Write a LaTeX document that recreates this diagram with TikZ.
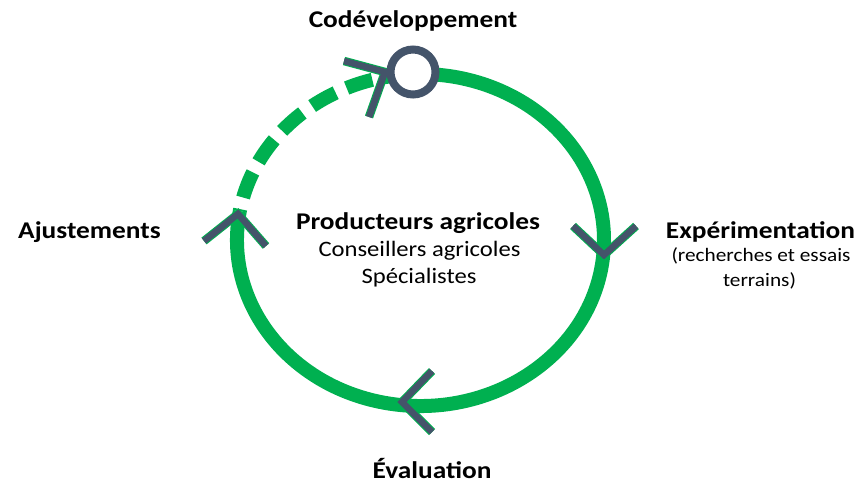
\documentclass[tikz,border=0pt]{standalone}
\usepackage{fontspec}
\setmainfont{Carlito}
\definecolor{cgreen}{HTML}{00B050}
\definecolor{slate}{HTML}{44546A}
\begin{document}
\begin{tikzpicture}[x=1pt,y=-1pt,
  ring/.style={draw=cgreen,line width=14pt},
  chevout/.style={draw=cgreen,line width=8.5pt,line cap=butt,line join=miter},
  chevin/.style={draw=slate,line width=6.5pt,line cap=butt,line join=miter},
  title/.style={font=\bfseries\fontsize{24}{28}\selectfont,inner sep=0pt,anchor=base,xscale=1.14},
  sub/.style={font=\fontsize{22}{26}\selectfont,inner sep=0pt,anchor=base,xscale=1.12},
  small/.style={font=\fontsize{19}{23}\selectfont,inner sep=0pt,anchor=base,xscale=1.12}]
\useasboundingbox (0,0) rectangle (856,483);
% solid ring part
\draw[ring] (420.5,240) ++(170:183.5 and -166) arc[start angle=170,end angle=453,x radius=183.5,y radius=-166];
% dashed part
\draw[ring,dash pattern=on 27pt off 12pt] (420.5,240) ++(93:183.5 and -166) arc[start angle=93,end angle=170,x radius=183.5,y radius=-166];
% chevrons
\coordinate (t1) at (385,72); \coordinate (a1) at (344,61); \coordinate (b1) at (369,117);
\coordinate (t2) at (238,214); \coordinate (a2) at (204,241); \coordinate (b2) at (266,246);
\coordinate (t3) at (604,255); \coordinate (a3) at (573,226); \coordinate (b3) at (636,226);
\coordinate (t4) at (402,402); \coordinate (a4) at (432,371); \coordinate (b4) at (432,432);
\foreach \i in {1,2,3,4}{
  \draw[chevout] (a\i) -- (t\i) -- (b\i);
  \draw[chevin] (a\i) -- (t\i) -- (b\i);
}
% circle node
\node[circle,draw=slate,line width=8pt,fill=white,minimum size=45pt,inner sep=0pt] (codev) at (413,72) {};
% texts
\node[title] (lcodev) at (413,27) {Codéveloppement};
\node[title] (lajust) at (89.5,238) {Ajustements};
\node[title] (lexp) at (760.5,238) {Expérimentation};
\node[small] (lexp2) at (761,261) {(recherches et essais};
\node[small] (lexp3) at (759.5,286) {terrains)};
\node[title] (leval) at (432,478) {Évaluation};
\node[title] (lprod) at (418,229) {Producteurs agricoles};
\node[sub] (lcons) at (419.5,256) {Conseillers agricoles};
\node[sub] (lspec) at (419,283) {Spécialistes};
\end{tikzpicture}
\end{document}
